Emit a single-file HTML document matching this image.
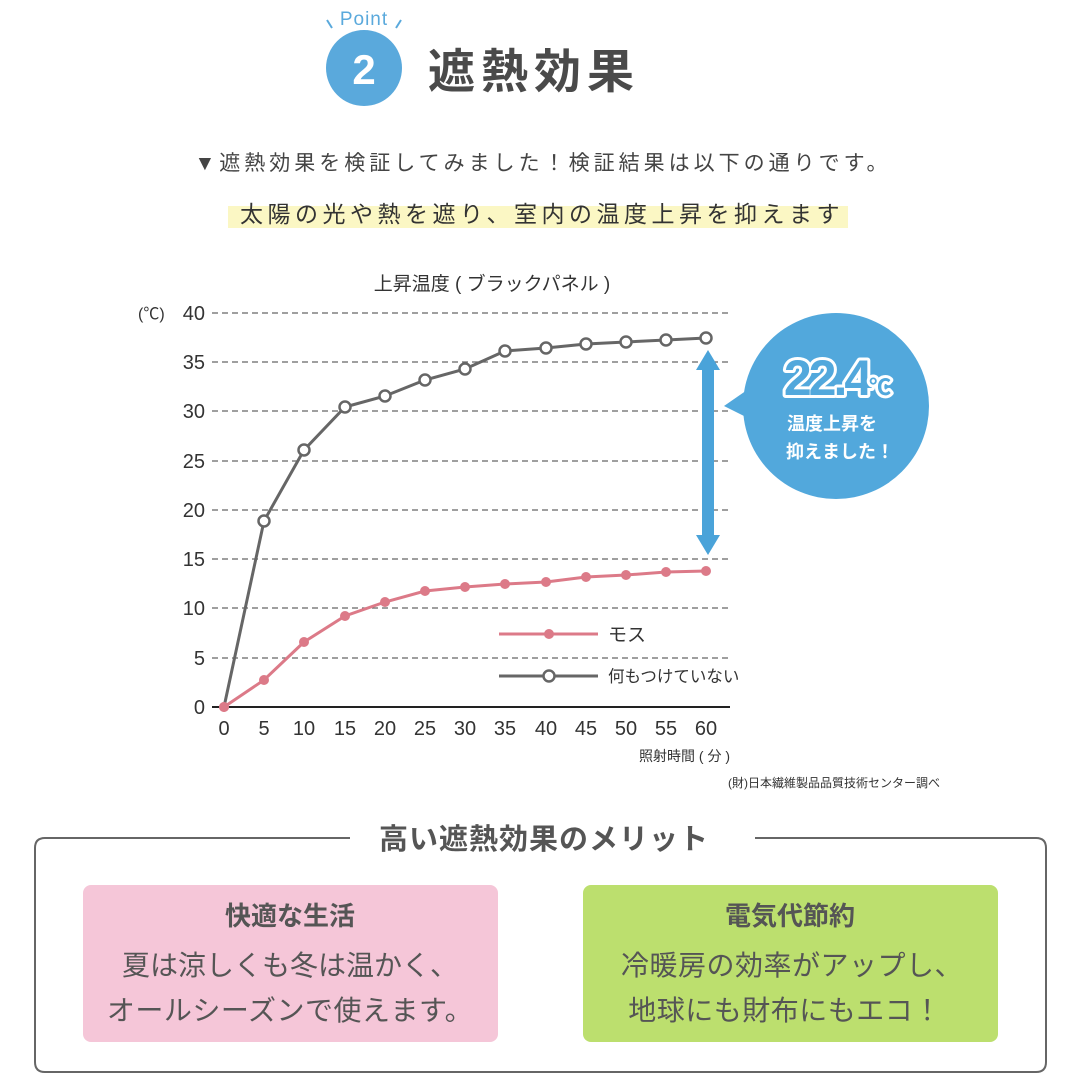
<!DOCTYPE html>
<html><head><meta charset="utf-8"><style>
html,body{margin:0;padding:0;background:#fff}
svg{display:block}
text{font-family:"Liberation Sans","Noto Sans CJK JP",sans-serif}
</style></head><body>
<svg width="1080" height="1080" viewBox="0 0 1080 1080" xmlns="http://www.w3.org/2000/svg">
<rect width="1080" height="1080" fill="#fff"/>
<!-- header -->
<circle cx="364" cy="68" r="38" fill="#5aa9dc"/>
<text x="364" y="84" font-family="Liberation Serif,serif" font-size="42" font-weight="bold" fill="#fff" text-anchor="middle">2</text>
<text x="364" y="25" font-family="Liberation Serif,serif" font-size="19" fill="#5aa9dc" text-anchor="middle" letter-spacing="1">Point</text>
<line x1="327" y1="20" x2="332" y2="28" stroke="#5aa9dc" stroke-width="2"/>
<line x1="401" y1="20" x2="396" y2="28" stroke="#5aa9dc" stroke-width="2"/>
<text x="428" y="88" font-size="47" font-weight="bold" fill="#4a4a4a" letter-spacing="6">遮熱効果</text>
<text x="543" y="170" font-size="21" fill="#444" text-anchor="middle" letter-spacing="4">▼遮熱効果を検証してみました！検証結果は以下の通りです。</text>
<rect x="228" y="206" width="620" height="22" fill="#fbf7c4"/>
<text x="542" y="222" font-size="23" fill="#333" text-anchor="middle" letter-spacing="4.5">太陽の光や熱を遮り、室内の温度上昇を抑えます</text>
<!-- chart -->
<text x="492" y="290" font-size="19" fill="#333" text-anchor="middle">上昇温度 ( ブラックパネル )</text>
<g stroke="#666" stroke-width="1.3" stroke-dasharray="6,4">
<line x1="212" y1="313" x2="730" y2="313"/><line x1="212" y1="362" x2="730" y2="362"/>
<line x1="212" y1="411" x2="730" y2="411"/><line x1="212" y1="461" x2="730" y2="461"/>
<line x1="212" y1="510" x2="730" y2="510"/><line x1="212" y1="559" x2="730" y2="559"/>
<line x1="212" y1="608" x2="730" y2="608"/><line x1="212" y1="658" x2="730" y2="658"/>
</g>
<line x1="212" y1="707" x2="730" y2="707" stroke="#222" stroke-width="2"/>
<g font-size="20" fill="#333" text-anchor="end">
<text x="205" y="320">40</text><text x="205" y="369">35</text><text x="205" y="418">30</text>
<text x="205" y="468">25</text><text x="205" y="517">20</text><text x="205" y="566">15</text>
<text x="205" y="615">10</text><text x="205" y="665">5</text><text x="205" y="714">0</text>
</g>
<text x="138" y="319" font-size="16" fill="#333">(℃)</text>
<g font-size="20" fill="#333" text-anchor="middle">
<text x="224" y="735">0</text><text x="264" y="735">5</text><text x="304" y="735">10</text><text x="345" y="735">15</text>
<text x="385" y="735">20</text><text x="425" y="735">25</text><text x="465" y="735">30</text><text x="505" y="735">35</text>
<text x="546" y="735">40</text><text x="586" y="735">45</text><text x="626" y="735">50</text><text x="666" y="735">55</text><text x="706" y="735">60</text>
</g>
<text x="730" y="761" font-size="14" fill="#333" text-anchor="end">照射時間 ( 分 )</text>
<text x="940" y="787" font-size="12" fill="#333" text-anchor="end">(財)日本繊維製品品質技術センター調べ</text>
<!-- pink -->
<polyline fill="none" stroke="#dc7a88" stroke-width="3" points="224,707 264,680 304,642 345,616 385,602 425,591 465,587 505,584 546,582 586,577 626,575 666,572 706,571"/>
<g fill="#dc7a88">
<circle cx="224" cy="707" r="5"/><circle cx="264" cy="680" r="5"/><circle cx="304" cy="642" r="5"/><circle cx="345" cy="616" r="5"/>
<circle cx="385" cy="602" r="5"/><circle cx="425" cy="591" r="5"/><circle cx="465" cy="587" r="5"/><circle cx="505" cy="584" r="5"/>
<circle cx="546" cy="582" r="5"/><circle cx="586" cy="577" r="5"/><circle cx="626" cy="575" r="5"/><circle cx="666" cy="572" r="5"/><circle cx="706" cy="571" r="5"/>
</g>
<!-- gray -->
<polyline fill="none" stroke="#666" stroke-width="3" points="224,707 264,521 304,450 345,407 385,396 425,380 465,369 505,351 546,348 586,344 626,342 666,340 706,338"/>
<g fill="#fff" stroke="#666" stroke-width="2.5">
<circle cx="264" cy="521" r="5.5"/><circle cx="304" cy="450" r="5.5"/><circle cx="345" cy="407" r="5.5"/>
<circle cx="385" cy="396" r="5.5"/><circle cx="425" cy="380" r="5.5"/><circle cx="465" cy="369" r="5.5"/><circle cx="505" cy="351" r="5.5"/>
<circle cx="546" cy="348" r="5.5"/><circle cx="586" cy="344" r="5.5"/><circle cx="626" cy="342" r="5.5"/><circle cx="666" cy="340" r="5.5"/><circle cx="706" cy="338" r="5.5"/>
</g>
<circle cx="224" cy="707" r="5" fill="#dc7a88"/>
<!-- legend -->
<line x1="499" y1="634" x2="598" y2="634" stroke="#dc7a88" stroke-width="3"/>
<circle cx="549" cy="634" r="5" fill="#dc7a88"/>
<text x="608" y="641" font-size="19" fill="#333">モス</text>
<line x1="499" y1="676" x2="598" y2="676" stroke="#666" stroke-width="3"/>
<circle cx="549" cy="676" r="5.5" fill="#fff" stroke="#666" stroke-width="2.5"/>
<text x="608" y="682" font-size="16.5" fill="#333">何もつけていない</text>
<!-- arrow -->
<rect x="702" y="368" width="12" height="170" fill="#4aa3d9"/>
<polygon points="708,350 696,370 720,370" fill="#4aa3d9"/>
<polygon points="708,555 696,535 720,535" fill="#4aa3d9"/>
<!-- bubble -->
<circle cx="836" cy="406" r="93" fill="#52a8dc"/>
<polygon points="724,406 750,388 752,420" fill="#52a8dc"/>
<text x="836" y="395" font-size="50" font-weight="bold" fill="#52a8dc" stroke="#fff" stroke-width="6" stroke-linejoin="round" text-anchor="middle" paint-order="stroke" letter-spacing="-3">22.4<tspan font-size="22">℃</tspan></text>
<text x="832" y="430" font-size="18" font-weight="bold" fill="#fff" text-anchor="middle">温度上昇を</text>
<text x="840" y="458" font-size="18" font-weight="bold" fill="#fff" text-anchor="middle">抑えました！</text>
<!-- merits box -->
<path d="M350,838 H45 Q35,838 35,848 V1062 Q35,1072 45,1072 H1036 Q1046,1072 1046,1062 V848 Q1046,838 1036,838 H755" fill="none" stroke="#666" stroke-width="2"/>
<text x="544" y="849" font-size="29" font-weight="bold" fill="#555" text-anchor="middle" letter-spacing="1">高い遮熱効果のメリット</text>
<rect x="83" y="885" width="415" height="157" rx="8" fill="#f5c6d8"/>
<text x="290" y="925" font-size="26" font-weight="bold" fill="#555" text-anchor="middle">快適な生活</text>
<text x="290" y="975" font-size="28" fill="#555" text-anchor="middle">夏は涼しくも冬は温かく、</text>
<text x="290" y="1020" font-size="28" fill="#555" text-anchor="middle" letter-spacing="0.5">オールシーズンで使えます。</text>
<rect x="583" y="885" width="415" height="157" rx="8" fill="#bcdf6e"/>
<text x="790" y="925" font-size="26" font-weight="bold" fill="#555" text-anchor="middle">電気代節約</text>
<text x="792" y="975" font-size="28" fill="#555" text-anchor="middle" letter-spacing="0.5">冷暖房の効率がアップし、</text>
<text x="785" y="1020" font-size="28" fill="#555" text-anchor="middle" letter-spacing="0.5">地球にも財布にもエコ！</text>
</svg>
</body></html>
